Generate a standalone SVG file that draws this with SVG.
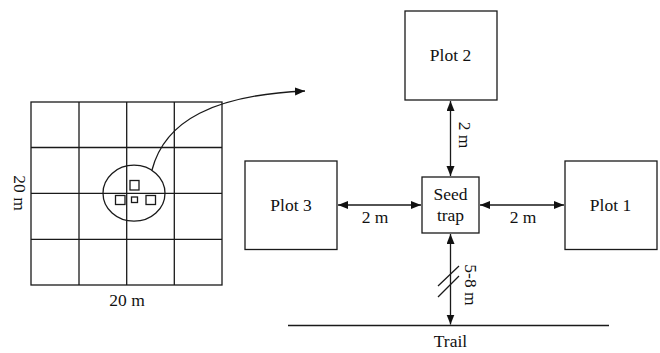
<svg xmlns="http://www.w3.org/2000/svg" width="660" height="353" viewBox="0 0 660 353">
<style>
.ln{fill:none;stroke:#1a1a1a;stroke-width:1.3}
.box{fill:#fff;stroke:#1a1a1a;stroke-width:1.3}
text{font-family:'Liberation Serif','Times New Roman',Times,serif;font-size:17.5px;fill:#111;text-anchor:middle}
</style>
<defs>
<marker id="ah" markerUnits="userSpaceOnUse" markerWidth="11" markerHeight="9" refX="10" refY="4" orient="auto-start-reverse" viewBox="0 0 11 9">
<path d="M0,0 L10,4 L0,8 z" fill="#111"/>
</marker>
</defs>
<rect width="660" height="353" fill="#fff"/>
<g font-family="Liberation Serif, Times New Roman, serif">
<g id="grid">
<rect class="box" x="31" y="102" width="191" height="183"/>
<path class="ln" d="M79,102V285M126.7,102V285M174.3,102V285M31,147.5H222M31,193.3H222M31,239.3H222"/>
<ellipse class="ln" cx="134" cy="193.2" rx="31" ry="28"/>
<rect class="ln" x="130" y="180.5" width="9" height="9.5"/>
<rect class="box" x="115.5" y="195.5" width="9.5" height="9"/>
<rect class="box" x="131.5" y="197" width="6" height="5.5"/>
<rect class="box" x="146" y="195.5" width="9.5" height="9"/>
<text x="127" y="306">20 m</text>
<text transform="translate(14,193) rotate(90)">20 m</text>
</g>
<g id="plot2"><rect class="box" x="405" y="11" width="92" height="89"/><text x="450.5" y="61">Plot 2</text></g>
<g id="plot3"><rect class="box" x="245" y="161" width="92" height="88.5"/><text x="291" y="211">Plot 3</text></g>
<g id="plot1"><rect class="box" x="565" y="161" width="92" height="88.5"/><text x="610.5" y="211">Plot 1</text></g>
<g id="seedtrap"><rect class="box" x="422" y="177" width="57" height="56"/><text x="450.5" y="199.5">Seed</text><text x="450.5" y="220.5">trap</text></g>
<g id="trail"><path class="ln" d="M288,325.5H609"/><text x="450.5" y="347">Trail</text></g>
<g id="connectors">
<path class="ln" d="M152,170 C165,120 215,95 305,91" marker-end="url(#ah)"/>
<path class="ln" d="M450.5,101V176" marker-start="url(#ah)" marker-end="url(#ah)"/>
<path class="ln" d="M338,205H421" marker-start="url(#ah)" marker-end="url(#ah)"/>
<path class="ln" d="M480,205H564" marker-start="url(#ah)" marker-end="url(#ah)"/>
<path class="ln" d="M450.5,234V324.5" marker-start="url(#ah)" marker-end="url(#ah)"/>
<path class="ln" d="M438,286L459,266M438,297L459,276"/>
<text transform="translate(459,135) rotate(90)">2 m</text>
<text x="375" y="223">2 m</text>
<text x="523" y="223">2 m</text>
<text transform="translate(465,285) rotate(90)">5-8 m</text>
</g>
</g>
</svg>
